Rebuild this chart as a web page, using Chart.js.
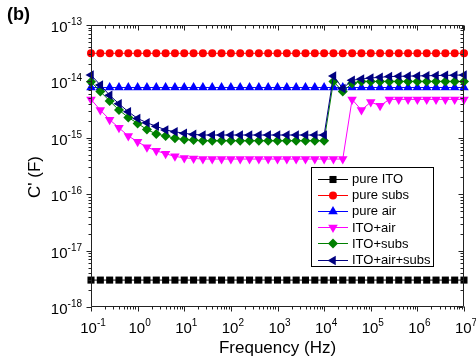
<!DOCTYPE html>
<html>
<head>
<meta charset="utf-8">
<script src="https://cdn.jsdelivr.net/npm/chart.js@4/dist/chart.umd.min.js"></script>
<style>
html,body{margin:0;padding:0;background:#fff;}
#wrap{width:476px;height:362px;}
</style>
</head>
<body>
<div id="wrap"><canvas id="c" width="476" height="362"></canvas></div>
<script>
// Frequency sweep (Hz)
const frequency = [0.1,0.1585,0.2512,0.3981,0.631,1,1.585,2.512,3.981,6.31,
  10,15.85,25.12,39.81,63.1,100,158.5,251.2,398.1,631,
  1000,1585,2512,3981,6310,1e4,1.585e4,2.512e4,3.981e4,6.31e4,
  1e5,1.585e5,2.512e5,3.981e5,6.31e5,1e6,1.585e6,2.512e6,3.981e6,6.31e6,1e7];

const pureITO = [3.0e-18,3.0e-18,3.0e-18,3.0e-18,3.0e-18,3.0e-18,3.0e-18,3.0e-18,3.0e-18,3.0e-18,
  3.0e-18,3.0e-18,3.0e-18,3.0e-18,3.0e-18,3.0e-18,3.0e-18,3.0e-18,3.0e-18,3.0e-18,
  3.0e-18,3.0e-18,3.0e-18,3.0e-18,3.0e-18,3.0e-18,3.0e-18,3.0e-18,3.0e-18,3.0e-18,
  3.0e-18,3.0e-18,3.0e-18,3.0e-18,3.0e-18,3.0e-18,3.0e-18,3.0e-18,3.0e-18,3.0e-18,3.0e-18];

const pureSubs = [3.15e-14,3.15e-14,3.15e-14,3.15e-14,3.15e-14,3.15e-14,3.15e-14,3.15e-14,3.15e-14,3.15e-14,
  3.15e-14,3.15e-14,3.15e-14,3.15e-14,3.15e-14,3.15e-14,3.15e-14,3.15e-14,3.15e-14,3.15e-14,
  3.15e-14,3.15e-14,3.15e-14,3.15e-14,3.15e-14,3.15e-14,3.15e-14,3.15e-14,3.15e-14,3.15e-14,
  3.15e-14,3.15e-14,3.15e-14,3.15e-14,3.15e-14,3.15e-14,3.15e-14,3.15e-14,3.15e-14,3.15e-14,3.15e-14];

const pureAir = [7.8e-15,7.8e-15,7.8e-15,7.8e-15,7.8e-15,7.8e-15,7.8e-15,7.8e-15,7.8e-15,7.8e-15,
  7.8e-15,7.8e-15,7.8e-15,7.8e-15,7.8e-15,7.8e-15,7.8e-15,7.8e-15,7.8e-15,7.8e-15,
  7.8e-15,7.8e-15,7.8e-15,7.8e-15,7.8e-15,7.8e-15,7.8e-15,7.8e-15,7.8e-15,7.8e-15,
  7.8e-15,7.8e-15,7.8e-15,7.8e-15,7.8e-15,7.8e-15,7.8e-15,7.8e-15,7.8e-15,7.8e-15,7.8e-15];

const itoAir = [4.8e-15,3.1e-15,2.1e-15,1.5e-15,1.08e-15,8.5e-16,6.8e-16,5.9e-16,5.2e-16,4.7e-16,
  4.4e-16,4.3e-16,4.2e-16,4.2e-16,4.2e-16,4.2e-16,4.2e-16,4.2e-16,4.2e-16,4.2e-16,
  4.2e-16,4.2e-16,4.2e-16,4.2e-16,4.2e-16,4.2e-16,4.2e-16,4.2e-16,4.8e-15,3.1e-15,
  4.3e-15,3.7e-15,4.8e-15,4.8e-15,4.8e-15,4.8e-15,4.8e-15,4.8e-15,4.8e-15,4.8e-15,4.8e-15];

const itoSubs = [9.9e-15,6.6e-15,4.5e-15,3.1e-15,2.3e-15,1.8e-15,1.4e-15,1.17e-15,1.08e-15,9.8e-16,
  9.3e-16,9.1e-16,8.9e-16,8.9e-16,8.9e-16,8.9e-16,8.9e-16,8.9e-16,8.9e-16,8.9e-16,
  8.9e-16,8.9e-16,8.9e-16,8.9e-16,8.9e-16,8.9e-16,1.0e-14,6.6e-15,9.3e-15,1.0e-14,
  1.0e-14,1.0e-14,1.0e-14,1.0e-14,1.0e-14,1.0e-14,1.0e-14,1.0e-14,1.0e-14,1.0e-14,1.0e-14];

const itoAirSubs = [1.3e-14,8.6e-15,5.7e-15,4.0e-15,2.9e-15,2.2e-15,1.85e-15,1.6e-15,1.38e-15,1.28e-15,
  1.2e-15,1.15e-15,1.12e-15,1.12e-15,1.12e-15,1.12e-15,1.12e-15,1.12e-15,1.12e-15,1.12e-15,
  1.12e-15,1.12e-15,1.12e-15,1.12e-15,1.12e-15,1.12e-15,1.25e-14,7.5e-15,1.05e-14,1.1e-14,
  1.15e-14,1.18e-14,1.22e-14,1.23e-14,1.24e-14,1.25e-14,1.26e-14,1.27e-14,1.28e-14,1.29e-14,1.3e-14];

const seriesNames = ['pure ITO','pure subs','pure air','ITO+air','ITO+subs','ITO+air+subs'];
const xTickExponents = [-1,0,1,2,3,4,5,6,7];
const yTickExponents = [-18,-17,-16,-15,-14,-13];

const seriesValues = [pureITO, pureSubs, pureAir, itoAir, itoSubs, itoAirSubs];
const colors = ['#000000','#ff0000','#0000ff','#ff00ff','#008000','#000080'];
const styles = [
  {pointStyle:'rect', rotation:0, radius:5},
  {pointStyle:'circle', rotation:0, radius:4},
  {pointStyle:'triangle', rotation:0, radius:5.5},
  {pointStyle:'triangle', rotation:180, radius:5.5},
  {pointStyle:'rectRot', rotation:0, radius:5},
  {pointStyle:'triangle', rotation:270, radius:5.5}
];

const datasets = seriesValues.map((vals, i) => ({
  label: seriesNames[i],
  data: frequency.map((f, k) => ({x: f, y: vals[k]})),
  borderColor: colors[i],
  backgroundColor: colors[i],
  borderWidth: 1,
  pointStyle: styles[i].pointStyle,
  pointRotation: styles[i].rotation,
  pointRadius: styles[i].radius,
  pointBorderWidth: 0,
  pointBackgroundColor: colors[i],
  pointBorderColor: colors[i],
  tension: 0,
  clip: false,
  order: 5 - i
}));

function drawPow(ctx, base, exp, x, y, align, baseFont, expFont, expRise) {
  ctx.font = baseFont;
  const wb = ctx.measureText(base).width;
  ctx.font = expFont;
  const we = ctx.measureText(exp).width;
  const total = wb + we;
  let x0 = align === 'center' ? x - total / 2 : (align === 'right' ? x - total : x);
  ctx.textAlign = 'left';
  ctx.textBaseline = 'alphabetic';
  ctx.font = baseFont;
  ctx.fillText(base, x0, y);
  ctx.font = expFont;
  ctx.fillText(exp, x0 + wb, y - expRise);
}

const frame = {
  id: 'frame',
  afterDraw(chart) {
    const ctx = chart.ctx;
    const {left, right, top, bottom} = chart.chartArea;
    const xs = chart.scales.x, ys = chart.scales.y;
    ctx.save();
    ctx.strokeStyle = '#222';
    ctx.lineWidth = 1;
    const L = Math.round(left) + 0.5, R = Math.round(right) - 0.5;
    const T = Math.round(top) + 0.5, B = Math.round(bottom) - 0.5;
    ctx.beginPath();
    ctx.rect(L, T, R - L, B - T);
    ctx.stroke();
    ctx.beginPath();
    // x ticks
    for (let e = -1; e <= 7; e++) {
      for (let m = 1; m <= 9; m++) {
        const v = m * Math.pow(10, e);
        if (v > 1e7 * 1.0001) break;
        const px = Math.round(xs.getPixelForValue(v)) + 0.5;
        const len = m === 1 ? 5 : 3;
        ctx.moveTo(px, B); ctx.lineTo(px, B + len);
        ctx.moveTo(px, T); ctx.lineTo(px, T + len);
      }
    }
    // y ticks
    for (let e = -18; e <= -13; e++) {
      for (let m = 1; m <= 9; m++) {
        const v = m * Math.pow(10, e);
        if (v > 1e-13 * 1.0001) break;
        const py = Math.round(ys.getPixelForValue(v)) + 0.5;
        const len = m === 1 ? 5 : 3;
        ctx.moveTo(L, py); ctx.lineTo(L - len, py);
        ctx.moveTo(R, py); ctx.lineTo(R - len, py);
      }
    }
    ctx.stroke();

    ctx.fillStyle = '#000';
    const baseFont = '15px "Liberation Sans", Arial, sans-serif';
    const expFont = '10px "Liberation Sans", Arial, sans-serif';
    xTickExponents.forEach(e => {
      const px = xs.getPixelForValue(Math.pow(10, e));
      drawPow(ctx, '10', String(e), px + 2, 333, 'center', baseFont, expFont, 7);
    });
    yTickExponents.forEach(e => {
      const py = ys.getPixelForValue(Math.pow(10, e));
      drawPow(ctx, '10', String(e), 82, py + 7, 'right', baseFont, expFont, 7);
    });

    // axis titles
    ctx.font = '17px "Liberation Sans", Arial, sans-serif';
    ctx.textAlign = 'center';
    ctx.textBaseline = 'middle';
    ctx.fillText('Frequency (Hz)', (left + right) / 2, 348);
    ctx.save();
    ctx.translate(35, 177);
    ctx.rotate(-Math.PI / 2);
    ctx.fillText("C' (F)", 0, 0);
    ctx.restore();

    // panel label
    ctx.font = 'bold 18px "Liberation Sans", Arial, sans-serif';
    ctx.textAlign = 'left';
    ctx.fillText('(b)', 7, 15);

    // legend
    const bx = 311.5, by = 167.5, bw = 122, bh = 99;
    ctx.fillStyle = '#fff';
    ctx.fillRect(bx, by, bw, bh);
    ctx.strokeStyle = '#000';
    ctx.strokeRect(bx, by, bw, bh);
    ctx.font = '13px "Liberation Sans", Arial, sans-serif';
    ctx.textBaseline = 'middle';
    seriesNames.forEach((name, i) => {
      const yy = 178.5 + i * 16.2;
      ctx.strokeStyle = colors[i];
      ctx.lineWidth = 1;
      ctx.beginPath();
      ctx.moveTo(318, Math.round(yy) + 0.5);
      ctx.lineTo(348, Math.round(yy) + 0.5);
      ctx.stroke();
      ctx.fillStyle = colors[i];
      Chart.helpers.drawPoint(ctx, {pointStyle: styles[i].pointStyle, rotation: styles[i].rotation, radius: styles[i].radius, borderWidth: 0}, 333, Math.round(yy) + 0.5);
      ctx.fillStyle = '#000';
      ctx.textAlign = 'left';
      ctx.fillText(name, 352, yy + 1);
    });
    ctx.restore();
  }
};

new Chart(document.getElementById('c'), {
  type: 'line',
  data: {datasets},
  options: {
    responsive: false,
    animation: false,
    layout: {padding: {left: 91, right: 12, top: 25, bottom: 55}},
    plugins: {legend: {display: false}, tooltip: {enabled: false}},
    scales: {
      x: {type: 'logarithmic', min: 0.1, max: 1e7, display: false,
          title: {display: false, text: 'Frequency (Hz)'}},
      y: {type: 'logarithmic', min: 1e-18, max: 1e-13, display: false,
          title: {display: false, text: "C' (F)"}}
    }
  },
  plugins: [frame]
});
</script>
</body>
</html>
